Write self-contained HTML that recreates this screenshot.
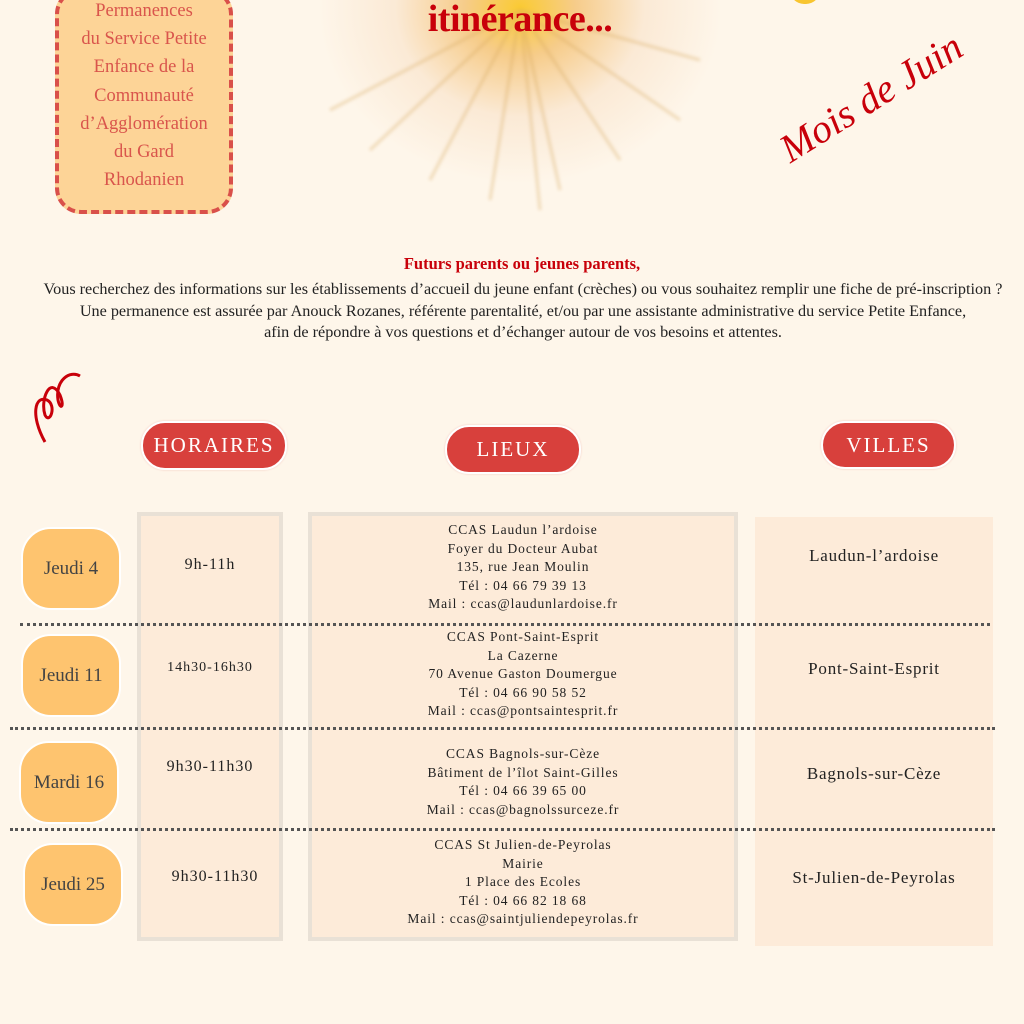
<!DOCTYPE html>
<html><head><meta charset="utf-8"><style>
*{margin:0;padding:0;box-sizing:border-box}
body{width:1024px;height:1024px;background:#fef6ea;position:relative;overflow:hidden;font-family:"Liberation Serif",serif;color:#222}
.a{position:absolute}
.c{text-align:center}
.hdr{position:absolute;background:#d8403c;color:#fff;border:2px solid #fff;border-radius:24px;font-size:21px;letter-spacing:2px;display:flex;align-items:center;justify-content:center;box-shadow:0 0 2px #f3c9c0}
.day{position:absolute;background:#fec46f;border:2px solid #fff;border-radius:30px;font-size:19px;color:#444;display:flex;align-items:center;justify-content:center;width:100px;height:83px}
.col{position:absolute;background:#fdebd9;border:4px solid #e9e1d6}
.dot{position:absolute;height:0;border-top:3px dotted #555}
.lieu{position:absolute;left:308px;width:430px;text-align:center;font-size:13.5px;line-height:18.5px;letter-spacing:.9px}
.ville{position:absolute;left:755px;width:238px;text-align:center;font-size:17px;letter-spacing:.8px}
.hor{position:absolute;left:137px;width:146px;text-align:center;font-size:16px;letter-spacing:1px}
</style></head><body>
<div class="a" style="left:300px;top:-120px;width:440px;height:320px;background:radial-gradient(ellipse at 50% 40%,rgba(250,200,40,.95) 0,rgba(240,170,60,.55) 18%,rgba(240,190,140,.22) 40%,rgba(254,246,234,0) 65%)"></div>
<svg class="a" style="left:300px;top:0;filter:blur(1.5px)" width="440" height="220">
<g stroke="#d8a860" stroke-width="3" opacity=".35">
<line x1="220" y1="10" x2="30" y2="110"/><line x1="220" y1="10" x2="70" y2="150"/><line x1="220" y1="10" x2="130" y2="180"/><line x1="220" y1="10" x2="190" y2="200"/><line x1="220" y1="10" x2="260" y2="190"/><line x1="220" y1="10" x2="320" y2="160"/><line x1="220" y1="10" x2="400" y2="60"/><line x1="220" y1="10" x2="380" y2="120"/><line x1="220" y1="10" x2="240" y2="210"/>
</g></svg>
<div class="a" style="left:790px;top:-10px;width:30px;height:14px;background:#f8c530;border-radius:0 0 15px 15px"></div>
<div class="a c" style="left:330px;top:-3px;width:380px;font-size:38px;font-weight:bold;color:#c8000a;letter-spacing:-.5px">itinérance...</div>
<div class="a" style="left:55px;top:-12px;width:178px;height:226px;background:#fdd497;border:4px dashed #d9504a;border-radius:26px"></div>
<div class="a c" style="left:55px;top:-3px;width:178px;font-size:18.5px;line-height:28.2px;color:#d9554c">Permanences<br>du Service Petite<br>Enfance de la<br>Communauté<br>d’Agglomération<br>du Gard<br>Rhodanien</div>
<div class="a" style="left:765px;top:65px;width:240px;font-size:40px;font-style:italic;color:#c8000a;transform:rotate(-32deg)">Mois de Juin</div>
<div class="a c" style="left:0;top:254px;width:1044px;font-size:16.5px;font-weight:bold;color:#c8000a">Futurs parents ou jeunes parents,</div>
<div class="a c" style="left:0;top:279px;width:1046px;font-size:16.2px;line-height:21.5px;color:#222">Vous recherchez des informations sur les établissements d’accueil du jeune enfant (crèches) ou vous souhaitez remplir une fiche de pré-inscription ?<br>Une permanence est assurée par Anouck Rozanes, référente parentalité, et/ou par une assistante administrative du service Petite Enfance,<br>afin de répondre à vos questions et d’échanger autour de vos besoins et attentes.</div>
<svg class="a" style="left:25px;top:370px" width="65" height="80"><path d="M20 72 C5 45,10 25,22 30 C32 35,25 55,20 45 C15 30,25 5,35 25 C40 38,35 40,33 30 C30 10,45 0,55 6" fill="none" stroke="#c8000a" stroke-width="3"/></svg>
<div class="hdr" style="left:141px;top:421px;width:146px;height:49px">HORAIRES</div>
<div class="hdr" style="left:445px;top:425px;width:136px;height:49px">LIEUX</div>
<div class="hdr" style="left:821px;top:421px;width:135px;height:48px">VILLES</div>
<div class="col" style="left:137px;top:512px;width:146px;height:429px"></div>
<div class="col" style="left:308px;top:512px;width:430px;height:429px"></div>
<div class="a" style="left:755px;top:517px;width:238px;height:429px;background:#fdebd9"></div>
<div class="dot" style="left:20px;top:623px;width:970px"></div>
<div class="dot" style="left:10px;top:727px;width:985px"></div>
<div class="dot" style="left:10px;top:828px;width:985px"></div>
<div class="day" style="left:21px;top:527px">Jeudi 4</div>
<div class="day" style="left:21px;top:634px">Jeudi 11</div>
<div class="day" style="left:19px;top:741px">Mardi 16</div>
<div class="day" style="left:23px;top:843px">Jeudi 25</div>
<div class="hor" style="top:556px">9h-11h</div>
<div class="hor" style="top:660px;font-size:14px">14h30-16h30</div>
<div class="hor" style="top:758px">9h30-11h30</div>
<div class="hor" style="top:868px;left:142px">9h30-11h30</div>
<div class="lieu" style="top:521px">CCAS Laudun l’ardoise<br>Foyer du Docteur Aubat<br>135, rue Jean Moulin<br>Tél : 04 66 79 39 13<br>Mail : ccas@laudunlardoise.fr</div>
<div class="lieu" style="top:628px">CCAS Pont-Saint-Esprit<br>La Cazerne<br>70 Avenue Gaston Doumergue<br>Tél : 04 66 90 58 52<br>Mail : ccas@pontsaintesprit.fr</div>
<div class="lieu" style="top:745px">CCAS Bagnols-sur-Cèze<br>Bâtiment de l’îlot Saint-Gilles<br>Tél : 04 66 39 65 00<br>Mail : ccas@bagnolssurceze.fr</div>
<div class="lieu" style="top:836px">CCAS St Julien-de-Peyrolas<br>Mairie<br>1 Place des Ecoles<br>Tél : 04 66 82 18 68<br>Mail : ccas@saintjuliendepeyrolas.fr</div>
<div class="ville" style="top:546px">Laudun-l’ardoise</div>
<div class="ville" style="top:659px">Pont-Saint-Esprit</div>
<div class="ville" style="top:764px">Bagnols-sur-Cèze</div>
<div class="ville" style="top:868px">St-Julien-de-Peyrolas</div>
</body></html>
